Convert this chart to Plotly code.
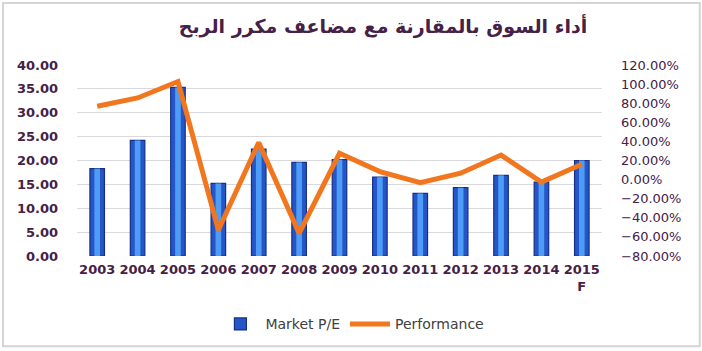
import plotly.graph_objects as go

years = ["2003", "2004", "2005", "2006", "2007", "2008", "2009", "2010", "2011", "2012", "2013", "2014", "2015F"]
tick_labels = ["2003", "2004", "2005", "2006", "2007", "2008", "2009", "2010", "2011", "2012", "2013", "2014", "2015<br>F"]
market_pe = [18.3, 24.2, 35.3, 15.2, 22.4, 19.6, 20.2, 16.5, 13.1, 14.3, 16.9, 15.5, 20.0]
performance = [0.768, 0.855, 1.027, -0.527, 0.389, -0.562, 0.275, 0.084, -0.033, 0.067, 0.257, -0.026, 0.160]

left_ticks = [0, 5, 10, 15, 20, 25, 30, 35, 40]
right_ticks = [-0.8, -0.6, -0.4, -0.2, 0, 0.2, 0.4, 0.6, 0.8, 1.0, 1.2]

title_text = "أداء السوق بالمقارنة مع مضاعف مكرر الربح"
purple = "#452047"

W, H = 702, 351
L, R, T, B = 76.5, 100.3, 65, 93.5
pw, ph = W - L - R, H - T - B

fig = go.Figure()
fig.add_trace(go.Bar(
    x=years, y=market_pe, name="Market P/E", width=0.36,
    marker=dict(color="#2556C8", line=dict(color="#172F86", width=1.2)),
    yaxis="y", hoverinfo="skip"))
fig.add_trace(go.Bar(
    x=years, y=market_pe, name="Market P/E hl", width=0.14, showlegend=False,
    marker=dict(color="#4E9CF6", line=dict(width=0)),
    yaxis="y", hoverinfo="skip"))
fig.add_trace(go.Scatter(
    x=years, y=performance, name="Performance", mode="lines",
    line=dict(color="#F2761E", width=5), yaxis="y2"))

fig.update_layout(
    width=W, height=H,
    margin=dict(l=L, r=R, t=T, b=B),
    paper_bgcolor="white", plot_bgcolor="white",
    barmode="overlay",
    title=dict(text=title_text, x=383 / W, xanchor="center", y=1 - 26 / H, yanchor="middle",
               font=dict(family="DejaVu Sans", size=19, color=purple, weight="bold")),
    xaxis=dict(tickvals=years, ticktext=tick_labels, showgrid=False, showline=False,
               ticks="", ticklabelstandoff=4,
               tickfont=dict(family="DejaVu Sans", size=13, color=purple, weight="bold"),
               range=[-0.5, 12.5]),
    yaxis=dict(range=[0, 40], tickvals=left_ticks, tickformat=".2f",
               showgrid=True, gridcolor="#D9D9DD", gridwidth=1, zeroline=False,
               showline=False, ticks="", ticklabelstandoff=18,
               tickfont=dict(family="DejaVu Sans", size=13, color=purple, weight="bold")),
    yaxis2=dict(range=[-0.8, 1.2], tickvals=right_ticks, tickformat=".2%",
                overlaying="y", side="right", showgrid=False, zeroline=False,
                showline=False, ticks="", ticklabelstandoff=18,
                tickfont=dict(family="DejaVu Sans", size=13, color=purple)),
    legend=dict(orientation="h", x=352 / pw - L / pw, xanchor="center", y=-(325 - (T + ph)) / ph, yanchor="middle",
                font=dict(family="DejaVu Sans", size=14, color="#404040"),
                traceorder="normal", itemwidth=40),
    showlegend=True,
)

# light frame around the chart
fig.add_shape(type="rect", xref="paper", yref="paper",
              x0=(2.5 - L) / pw, x1=(699.5 - L) / pw,
              y0=-(348.5 - (T + ph)) / ph, y1=(T + ph - 2.5) / ph,
              line=dict(color="#D4D4D4", width=2), fillcolor="rgba(0,0,0,0)", layer="below")

fig.write_html("out.html")
